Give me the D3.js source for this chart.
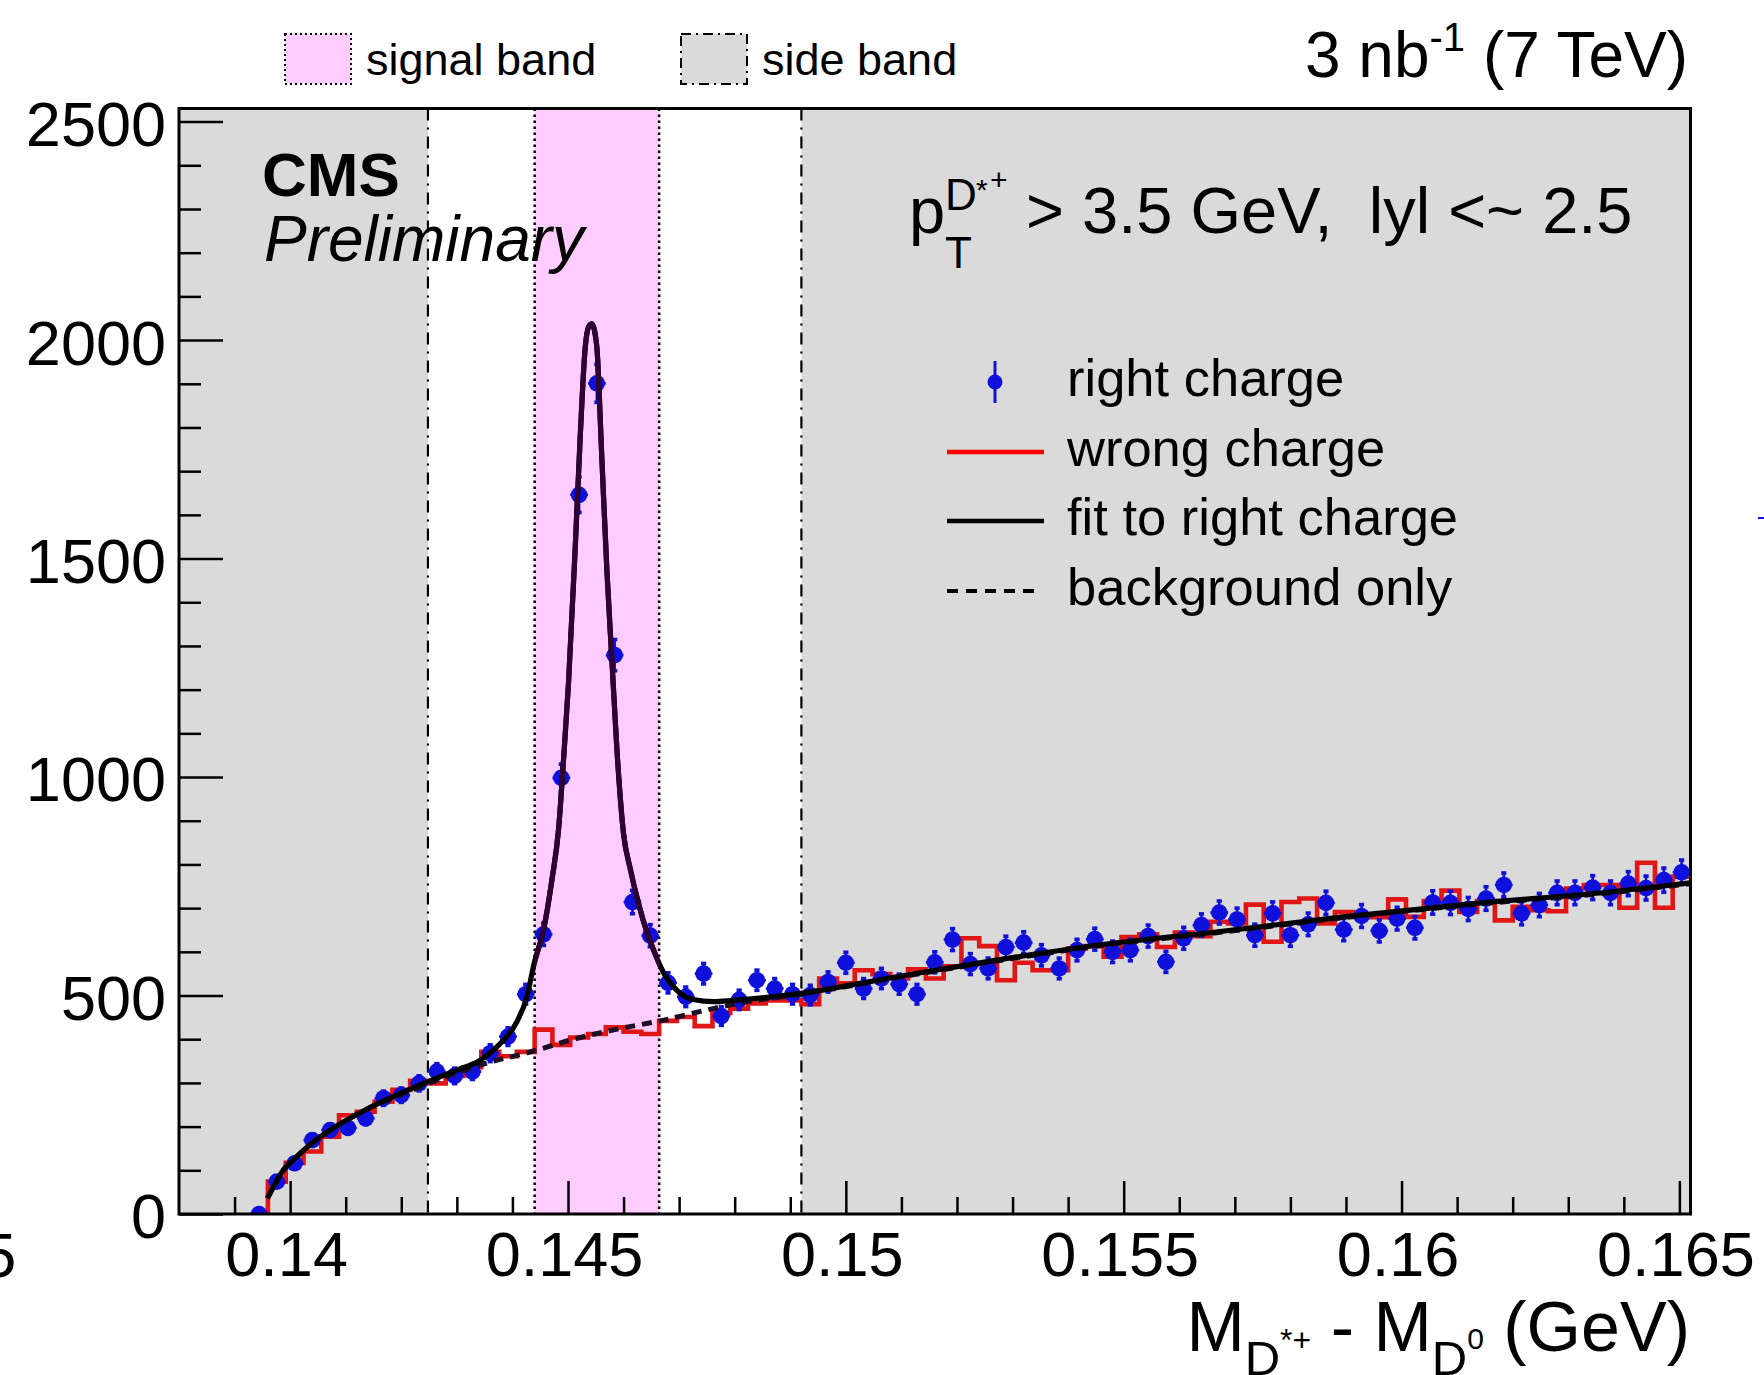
<!DOCTYPE html>
<html>
<head>
<meta charset="utf-8">
<script src="https://cdn.jsdelivr.net/npm/d3@7"></script>
<style>
  html, body { margin: 0; padding: 0; background: #fff; }
  svg { display: block; font-family: "Liberation Sans", Arial, Helvetica, sans-serif; }
</style>
</head>
<body>
<div id="chart"></div>
<script>
// binning of both histograms (GeV)
const binLow = 0.138;
const binHigh = 0.1652;
const nBins = 85;

// right charge counts, starting at bin 4
const rightFirstBin = 4;
const rightCharge = [
  0, 74, 116, 169, 192, 197, 219, 265, 272, 299,
  326, 316, 326, 368, 406, 503, 640, 998, 1646, 1901,
  1279, 714, 637, 529, 497, 550, 453, 490, 535, 516,
  503, 501, 531, 575, 516, 539, 526, 503, 576, 628,
  572, 562, 611, 621, 592, 562, 604, 629, 600, 604,
  636, 577, 631, 661, 690, 674, 638, 688, 638, 663,
  712, 651, 682, 648, 676, 655, 713, 712, 698, 722,
  753, 688, 707, 735, 735, 747, 735, 756, 746, 764,
  782
];

// wrong charge counts, bins 0..84
const wrongCharge = [
  0, 0, 0, 0, 0, 74, 117, 143, 177, 226,
  234, 257, 284, 305, 299, 316, 336, 371, 361, 371,
  422, 387, 404, 412, 427, 417, 412, 442, 451, 430,
  460, 470, 482, 489, 489, 480, 539, 528, 558, 549,
  539, 560, 539, 567, 631, 613, 535, 575, 558, 558,
  608, 613, 589, 634, 640, 611, 644, 636, 669, 665,
  708, 623, 714, 722, 665, 691, 682, 679, 720, 680,
  716, 740, 691, 716, 672, 703, 695, 693, 745, 753,
  753, 701, 804, 701, 772
];

// fit to right charge
const fitX = [0.13959, 0.13970, 0.13988, 0.14006, 0.14039, 0.14072, 0.14135, 0.14198, 0.14248, 0.14300,
  0.14342, 0.14378, 0.14408, 0.14426, 0.14439, 0.14456, 0.14471, 0.14483, 0.14492, 0.14501,
  0.14513, 0.14522, 0.14531, 0.14537, 0.14543, 0.14548, 0.14552, 0.14561, 0.14570, 0.14579,
  0.14588, 0.14600, 0.14612, 0.14627, 0.14642, 0.14654, 0.14672, 0.14696, 0.14725, 0.14762,
  0.14797, 0.14919, 0.15092, 0.15271, 0.15451, 0.15670, 0.15895, 0.16135, 0.16375, 0.16520];
const fitY = [36, 62, 101, 124, 162, 192, 238, 276, 303, 329,
  352, 390, 440, 497, 573, 650, 764, 880, 1040, 1217,
  1524, 1779, 1983, 2030, 2037, 2020, 1983, 1728, 1473, 1268,
  1064, 870, 790, 710, 645, 604, 552, 512, 491, 486,
  489, 505, 543, 581, 615, 646, 680, 711, 737, 758];

// background only component
const bgX = [0.13959, 0.13970, 0.13988, 0.14006, 0.14039, 0.14072, 0.14135, 0.14198, 0.14248, 0.14342,
  0.14438, 0.14510, 0.14600, 0.14666, 0.14750, 0.14810, 0.14919, 0.15092, 0.15271, 0.15451,
  0.15670, 0.15895, 0.16135, 0.16375, 0.16520];
const bgY = [36, 62, 101, 124, 162, 192, 238, 272, 298, 341,
  373, 400, 426, 442, 467, 483, 503, 541, 579, 613,
  644, 678, 709, 735, 756];

const sideBands = [[0.138, 0.14248], [0.1492, 0.1652]];
const signalBand = [0.1444, 0.14664];

const xMajor = [0.14, 0.145, 0.15, 0.155, 0.16, 0.165];
const xMajorLabels = ["0.14", "0.145", "0.15", "0.155", "0.16", "0.165"];
const xMinor = [0.139, 0.141, 0.142, 0.143, 0.144, 0.146, 0.147, 0.148, 0.149, 0.151, 0.152, 0.153, 0.154,
  0.156, 0.157, 0.158, 0.159, 0.161, 0.162, 0.163, 0.164];
const yMajor = [0, 500, 1000, 1500, 2000, 2500];
const yMinor = [100, 200, 300, 400, 600, 700, 800, 900, 1100, 1200, 1300, 1400,
  1600, 1700, 1800, 1900, 2100, 2200, 2300, 2400];

const legendLabels = ["right charge", "wrong charge", "fit to right charge", "background only"];

const width = 1764;
const height = 1375;
const frame = { left: 179, right: 1690.5, top: 108.5, bottom: 1214 };

const blue = "#1010dc";
const red = "#e01515";
const grey = "#dadada";
const pink = "#ffccff";

const svg = d3.select("#chart")
  .append("svg")
  .attr("width", width)
  .attr("height", height);

const x = d3.scaleLinear().domain([binLow, binHigh]).range([frame.left, frame.right]);
const y = d3.scaleLinear().domain([0, 2530]).range([frame.bottom, frame.top]);
const binW = (binHigh - binLow) / nBins;

const defs = svg.append("defs");
defs.append("clipPath").attr("id", "frame-clip")
  .append("rect")
  .attr("x", frame.left).attr("y", frame.top)
  .attr("width", frame.right - frame.left).attr("height", frame.bottom - frame.top);
defs.append("clipPath").attr("id", "signal-clip")
  .append("rect")
  .attr("x", x(signalBand[0])).attr("y", frame.top)
  .attr("width", x(signalBand[1]) - x(signalBand[0])).attr("height", frame.bottom - frame.top);

const plot = svg.append("g").attr("clip-path", "url(#frame-clip)");

// bands
sideBands.forEach(b => {
  plot.append("rect")
    .attr("x", x(b[0])).attr("y", frame.top)
    .attr("width", x(b[1]) - x(b[0])).attr("height", frame.bottom - frame.top)
    .attr("fill", grey);
});
plot.append("rect")
  .attr("x", x(signalBand[0])).attr("y", frame.top)
  .attr("width", x(signalBand[1]) - x(signalBand[0])).attr("height", frame.bottom - frame.top)
  .attr("fill", pink);

// band borders
[sideBands[0][1], sideBands[1][0]].forEach(v => {
  plot.append("line")
    .attr("x1", x(v)).attr("x2", x(v))
    .attr("y1", frame.top).attr("y2", frame.bottom)
    .attr("stroke", "#000").attr("stroke-width", 2.2)
    .attr("stroke-dasharray", "12 7 2 7");
});
signalBand.forEach(v => {
  plot.append("line")
    .attr("x1", x(v)).attr("x2", x(v))
    .attr("y1", frame.top).attr("y2", frame.bottom)
    .attr("stroke", "#000").attr("stroke-width", 2.5)
    .attr("stroke-dasharray", "2.5 3.5");
});

// wrong charge histogram, outline starts at the first filled bin
const firstFilled = wrongCharge.findIndex(v => v > 0);
const stepPts = [[binLow + firstFilled * binW, 0]];
wrongCharge.forEach((v, i) => {
  if (i >= firstFilled) stepPts.push([binLow + i * binW, v]);
});
stepPts.push([binHigh, wrongCharge[wrongCharge.length - 1]]);
plot.append("path")
  .attr("d", d3.line().x(d => x(d[0])).y(d => y(d[1])).curve(d3.curveStepAfter)(stepPts))
  .attr("fill", "none")
  .attr("stroke", red)
  .attr("stroke-width", 4.6);

// right charge points
const pts = rightCharge.map((v, i) => {
  const bin = rightFirstBin + i;
  return { xc: binLow + (bin + 0.5) * binW, v: v, e: Math.sqrt(v) };
});
const pg = plot.append("g").attr("fill", blue).attr("stroke", blue);
pts.forEach(d => {
  const cx = x(d.xc), cy = y(d.v);
  if (d.e > 0) {
    pg.append("line")
      .attr("x1", cx).attr("x2", cx)
      .attr("y1", y(d.v + d.e)).attr("y2", y(d.v - d.e))
      .attr("stroke-width", 2.6);
    [d.v + d.e, d.v - d.e].forEach(t => {
      pg.append("rect")
        .attr("x", cx - 2.6).attr("y", y(t) - 1.8)
        .attr("width", 5.2).attr("height", 3.6)
        .attr("stroke", "none");
    });
  }
  pg.append("line")
    .attr("x1", x(d.xc - binW / 2)).attr("x2", x(d.xc + binW / 2))
    .attr("y1", cy).attr("y2", cy)
    .attr("stroke-width", 2.6);
  pg.append("circle")
    .attr("cx", cx).attr("cy", cy).attr("r", 8.3)
    .attr("stroke", "none");
});

// background only
const curve = d3.line().x(d => x(d[0])).y(d => y(d[1])).curve(d3.curveMonotoneX);
plot.append("path")
  .attr("d", curve(bgX.map((v, i) => [v, bgY[i]])))
  .attr("fill", "none")
  .attr("stroke", "#1e0e26")
  .attr("stroke-width", 5)
  .attr("stroke-dasharray", "10 7");

// fit
const fitPath = curve(fitX.map((v, i) => [v, fitY[i]]));
plot.append("path")
  .attr("d", fitPath)
  .attr("fill", "none")
  .attr("stroke", "#000")
  .attr("stroke-width", 5.2);
plot.append("path")
  .attr("d", fitPath)
  .attr("clip-path", "url(#signal-clip)")
  .attr("fill", "none")
  .attr("stroke", "#300032")
  .attr("stroke-width", 5.2);

// axes
const tickFont = 63;
const xAxisMajor = d3.axisBottom(x).tickValues(xMajor).tickSize(-33).tickPadding(17)
  .tickFormat((d, i) => xMajorLabels[i]);
const xAxisMinor = d3.axisBottom(x).tickValues(xMinor).tickSize(-17).tickFormat("");
const yAxisMajor = d3.axisLeft(y).tickValues(yMajor).tickSize(-44).tickPadding(13)
  .tickFormat(d3.format("d"));
const yAxisMinor = d3.axisLeft(y).tickValues(yMinor).tickSize(-22).tickFormat("");

function styleAxis(g) {
  g.select(".domain").remove();
  g.selectAll(".tick line").attr("stroke", "#000").attr("stroke-width", 2.5);
  g.selectAll("text")
    .attr("fill", "#000")
    .style("font-family", "'Liberation Sans', Arial, Helvetica, sans-serif")
    .style("font-size", tickFont + "px");
}

svg.append("g").attr("transform", `translate(0,${frame.bottom})`).call(xAxisMinor).call(styleAxis);
svg.append("g").attr("transform", `translate(0,${frame.bottom})`).call(xAxisMajor).call(styleAxis)
  .selectAll("text").attr("dx", -4);
svg.append("g").attr("transform", `translate(${frame.left},0)`).call(yAxisMinor).call(styleAxis);
svg.append("g").attr("transform", `translate(${frame.left},0)`).call(yAxisMajor).call(styleAxis)
  .selectAll("text").attr("dy", "0.38em");

// label of 0.135, mostly outside the canvas
svg.append("text")
  .attr("x", x(0.135) + 4).attr("y", 1277)
  .attr("text-anchor", "end")
  .attr("font-size", tickFont)
  .text("0.135");

// frame
svg.append("rect")
  .attr("x", frame.left).attr("y", frame.top)
  .attr("width", frame.right - frame.left).attr("height", frame.bottom - frame.top)
  .attr("fill", "none").attr("stroke", "#000").attr("stroke-width", 3);

// axis title
const xt = svg.append("text")
  .attr("x", 1690).attr("y", 1351)
  .attr("text-anchor", "end")
  .attr("font-size", 70);
xt.append("tspan").text("M");
xt.append("tspan").attr("dy", 24).attr("font-size", 49).text("D");
xt.append("tspan").attr("dy", -24).attr("font-size", 32).text("*+");
xt.append("tspan").attr("dy", 0).attr("font-size", 70).text(" - M");
xt.append("tspan").attr("dy", 24).attr("font-size", 49).text("D");
xt.append("tspan").attr("dy", -26).attr("font-size", 30).text("0");
xt.append("tspan").attr("dy", 2).attr("font-size", 70).text(" (GeV)");

// lumi label
const lumi = svg.append("text")
  .attr("x", 1688).attr("y", 77)
  .attr("text-anchor", "end")
  .attr("font-size", 64);
lumi.append("tspan").text("3 nb");
lumi.append("tspan").attr("dy", -26).attr("font-size", 40).text("-1");
lumi.append("tspan").attr("dy", 26).attr("font-size", 64).text(" (7 TeV)");

// band legend on top
const bandLegend = [
  { label: "signal band", fill: pink, dash: "2 3", x0: 285 },
  { label: "side band", fill: grey, dash: "10 5 2 5", x0: 681 }
];
bandLegend.forEach(b => {
  svg.append("rect")
    .attr("x", b.x0).attr("y", 34)
    .attr("width", 66).attr("height", 50)
    .attr("fill", b.fill)
    .attr("stroke", "#000").attr("stroke-width", 2)
    .attr("stroke-dasharray", b.dash);
  svg.append("text")
    .attr("x", b.x0 + 81).attr("y", 75)
    .attr("font-size", 45)
    .text(b.label);
});

// CMS Preliminary
svg.append("text")
  .attr("x", 262).attr("y", 196)
  .attr("font-size", 62).attr("font-weight", "bold")
  .text("CMS");
svg.append("text")
  .attr("x", 264).attr("y", 261)
  .attr("font-size", 64).attr("font-style", "italic")
  .text("Preliminary");

// selection text
svg.append("text").attr("x", 909).attr("y", 233).attr("font-size", 65).text("p");
svg.append("text").attr("x", 945).attr("y", 268).attr("font-size", 44).text("T");
svg.append("text").attr("x", 945).attr("y", 210).attr("font-size", 44).text("D");
svg.append("text").attr("x", 976).attr("y", 200).attr("font-size", 30).text("*");
svg.append("text").attr("x", 990).attr("y", 190).attr("font-size", 30).text("+");
svg.append("text").attr("x", 1026).attr("y", 233).attr("font-size", 65)
  .text("> 3.5 GeV,\u00a0 lyl <~ 2.5");

// legend
const leg = svg.append("g");
const rowY = [382, 452, 521, 591];
legendLabels.forEach((t, i) => {
  leg.append("text")
    .attr("x", 1067).attr("y", rowY[i] + 14)
    .attr("font-size", 52.5)
    .text(t);
});
leg.append("line")
  .attr("x1", 995).attr("x2", 995).attr("y1", rowY[0] - 21).attr("y2", rowY[0] + 21)
  .attr("stroke", blue).attr("stroke-width", 3);
leg.append("circle").attr("cx", 995).attr("cy", rowY[0]).attr("r", 7.5).attr("fill", blue);
leg.append("line")
  .attr("x1", 947).attr("x2", 1044).attr("y1", rowY[1]).attr("y2", rowY[1])
  .attr("stroke", "#ff0000").attr("stroke-width", 4.5);
leg.append("line")
  .attr("x1", 947).attr("x2", 1044).attr("y1", rowY[2]).attr("y2", rowY[2])
  .attr("stroke", "#000").attr("stroke-width", 4.5);
leg.append("line")
  .attr("x1", 947).attr("x2", 1038).attr("y1", rowY[3]).attr("y2", rowY[3])
  .attr("stroke", "#000").attr("stroke-width", 4)
  .attr("stroke-dasharray", "11 8");

// stray blue mark at the right border
svg.append("line")
  .attr("x1", 1758).attr("x2", 1764).attr("y1", 518).attr("y2", 518)
  .attr("stroke", blue).attr("stroke-width", 2);
</script>
</body>
</html>
